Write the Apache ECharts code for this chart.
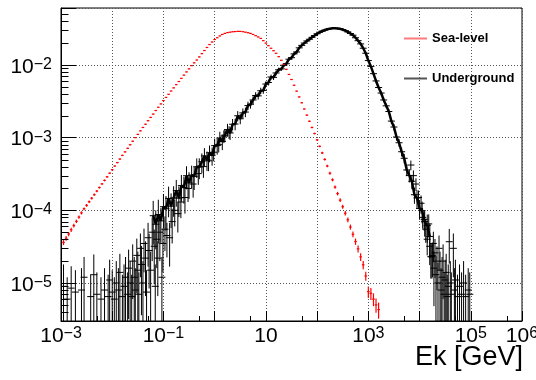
<!DOCTYPE html>
<html>
<head>
<meta charset="utf-8">
<script src="https://cdn.jsdelivr.net/npm/echarts/dist/echarts.min.js"></script>
<style>
html, body { margin: 0; padding: 0; background: #fff; }
#chart { width: 536px; height: 380px; }
</style>
</head>
<body>
<div id="chart"></div>
<script>
// ---------------- data ----------------
// Bin centres shared by both histograms (GeV)
const binCenters = [
  1.12e-3,1.26e-3,1.41e-3,1.58e-3,1.78e-3,2.00e-3,2.24e-3,2.51e-3,2.82e-3,3.16e-3,3.55e-3,3.98e-3,4.47e-3,5.01e-3,5.62e-3,6.31e-3,7.08e-3,7.94e-3,8.91e-3,
  1.00e-2,1.12e-2,1.26e-2,1.41e-2,1.58e-2,1.78e-2,2.00e-2,2.24e-2,2.51e-2,2.82e-2,3.16e-2,3.55e-2,3.98e-2,4.47e-2,5.01e-2,5.62e-2,6.31e-2,7.08e-2,7.94e-2,8.91e-2,
  0.100,0.112,0.126,0.141,0.158,0.178,0.200,0.224,0.251,0.282,0.316,0.355,0.398,0.447,0.501,0.562,0.631,0.708,0.794,0.891,
  1.00,1.12,1.26,1.41,1.58,1.78,2.00,2.24,2.51,2.82,3.16,3.55,3.98,4.47,5.01,5.62,6.31,7.08,7.94,8.91,
  10.0,11.2,12.6,14.1,15.8,17.8,20.0,22.4,25.1,28.2,31.6,35.5,39.8,44.7,50.1,56.2,63.1,70.8,79.4,89.1,
  100,112,126,141,158,178,200,224,251,282,316,355,398,447,501,562,631,708,794,891,
  1000,1122,1259,1413,1585,1778,1995,2239,2512,2818,3162,3548,3981,4467,5012,5623,6310,7079,7943,8913,
  10000,11220,12590,14130,15850
];

// Sea-level spectrum (first 124 bins)
const seaLevel = [
  3.61e-5,4.13e-5,4.72e-5,5.40e-5,6.17e-5,7.06e-5,8.07e-5,9.23e-5,1.05e-4,1.17e-4,1.31e-4,1.47e-4,1.64e-4,1.84e-4,2.06e-4,2.31e-4,2.58e-4,2.89e-4,3.24e-4,
  3.62e-4,4.06e-4,4.54e-4,5.08e-4,5.69e-4,6.37e-4,7.13e-4,7.98e-4,8.93e-4,1.00e-3,1.11e-3,1.24e-3,1.38e-3,1.53e-3,1.71e-3,1.90e-3,2.11e-3,2.36e-3,2.62e-3,2.91e-3,
  3.24e-3,3.58e-3,3.95e-3,4.38e-3,4.84e-3,5.36e-3,5.92e-3,6.55e-3,7.24e-3,8.02e-3,8.85e-3,9.79e-3,1.07e-2,1.17e-2,1.29e-2,1.43e-2,1.58e-2,1.74e-2,1.91e-2,2.07e-2,
  2.24e-2,2.37e-2,2.51e-2,2.63e-2,2.72e-2,2.79e-2,2.83e-2,2.86e-2,2.88e-2,2.90e-2,2.90e-2,2.87e-2,2.83e-2,2.78e-2,2.72e-2,2.63e-2,2.53e-2,2.43e-2,2.32e-2,2.16e-2,
  2.00e-2,1.84e-2,1.70e-2,1.57e-2,1.45e-2,1.30e-2,1.16e-2,1.02e-2,8.71e-3,7.41e-3,6.31e-3,5.25e-3,4.37e-3,3.63e-3,3.02e-3,2.48e-3,2.04e-3,1.68e-3,1.38e-3,1.14e-3,
  9.33e-4,7.59e-4,6.17e-4,5.01e-4,4.07e-4,3.24e-4,2.63e-4,2.09e-4,1.70e-4,1.38e-4,1.12e-4,9.12e-5,7.41e-5,5.89e-5,4.68e-5,3.72e-5,2.95e-5,2.29e-5,1.78e-5,1.25e-5,
  7.6e-6,7.2e-6,6.0e-6,5.0e-6,4.3e-6
];
const seaLevelRelErr = [
  0.08,0.075,0.07,0.065,0.06,0.055,0.05,0.05,0.045,0.045,0.04,0.04,0.035,0.035,0.03,0.03,0.03,0.025,0.025,
  0.025,0.022,0.02,0.02,0.02,0.018,0.018,0.016,0.016,0.015,0.015,0.014,0.014,0.013,0.013,0.012,0.012,0.012,0.011,0.011,
  0.01,0.01,0.01,0.01,0.01,0.01,0.01,0.01,0.01,0.01,0.01,0.01,0.01,0.01,0.01,0.01,0.01,0.01,0.01,0.01,
  0.008,0.008,0.008,0.008,0.008,0.008,0.008,0.008,0.008,0.008,0.008,0.008,0.008,0.008,0.008,0.008,0.008,0.008,0.008,0.008,
  0.008,0.008,0.008,0.009,0.009,0.01,0.01,0.01,0.011,0.012,0.013,0.014,0.015,0.016,0.017,0.018,0.02,0.022,0.024,0.026,
  0.028,0.03,0.033,0.036,0.04,0.044,0.048,0.052,0.056,0.06,0.065,0.07,0.075,0.08,0.09,0.1,0.11,0.12,0.13,0.14,
  0.18,0.19,0.2,0.22,0.25
];

// Underground spectrum, main band (null = no bin drawn)
const underground = [
  null,null,null,null,null,null,null,null,null,null,null,null,null,null,null,null,null,null,null,
  null,null,null,null,null,null,null,null,null,null,null,null,null,null,null,null,
  8.43e-5,6.44e-5,8.75e-5,7.16e-5,
  1.12e-4,1.05e-4,1.46e-4,1.14e-4,1.48e-4,1.87e-4,1.47e-4,2.19e-4,2.06e-4,2.99e-4,2.39e-4,3.05e-4,2.93e-4,3.98e-4,3.94e-4,4.66e-4,5.60e-4,4.95e-4,6.19e-4,5.71e-4,
  7.76e-4,7.78e-4,9.86e-4,8.85e-4,1.08e-3,1.29e-3,1.16e-3,1.53e-3,1.54e-3,2.00e-3,1.82e-3,2.19e-3,2.25e-3,2.76e-3,2.88e-3,3.30e-3,3.80e-3,3.76e-3,4.42e-3,4.46e-3,
  5.46e-3,5.74e-3,6.82e-3,6.75e-3,7.76e-3,8.59e-3,8.83e-3,9.91e-3,1.04e-2,1.20e-2,1.26e-2,1.42e-2,1.51e-2,1.72e-2,1.86e-2,2.00e-2,2.14e-2,2.26e-2,2.40e-2,2.54e-2,
  2.69e-2,2.82e-2,2.92e-2,3.02e-2,3.10e-2,3.16e-2,3.19e-2,3.20e-2,3.18e-2,3.14e-2,3.07e-2,2.97e-2,2.85e-2,2.71e-2,2.57e-2,2.37e-2,2.16e-2,1.95e-2,1.70e-2,1.45e-2,
  1.15e-2,9.55e-3,7.59e-3,6.03e-3,4.90e-3,4.11e-3,3.30e-3,2.74e-3,2.29e-3,1.69e-3,1.40e-3,1.02e-3,8.51e-4,6.40e-4,5.20e-4,3.59e-4,3.02e-4,2.51e-4,1.64e-4,1.48e-4,
  1.06e-4,9.89e-5,7.00e-5,6.17e-5,4.37e-5
];
const undergroundRelErr = [
  null,null,null,null,null,null,null,null,null,null,null,null,null,null,null,null,null,null,null,
  null,null,null,null,null,null,null,null,null,null,null,null,null,null,null,null,
  0.6,0.55,0.6,0.5,
  0.5,0.5,0.45,0.5,0.45,0.4,0.45,0.4,0.4,0.35,0.4,0.35,0.35,0.3,0.32,0.3,0.28,0.3,0.26,0.28,
  0.25,0.25,0.22,0.24,0.2,0.2,0.2,0.18,0.18,0.16,0.16,0.15,0.15,0.13,0.13,0.12,0.11,0.11,0.1,0.1,
  0.09,0.09,0.08,0.08,0.07,0.07,0.06,0.06,0.05,0.05,0.045,0.04,0.04,0.035,0.03,0.03,0.028,0.025,0.025,0.022,
  0.02,0.02,0.02,0.02,0.02,0.02,0.02,0.02,0.02,0.02,0.02,0.02,0.02,0.02,0.02,0.022,0.022,0.025,0.025,0.03,
  0.03,0.035,0.04,0.045,0.05,0.06,0.065,0.07,0.08,0.09,0.1,0.11,0.12,0.14,0.15,0.18,0.2,0.22,0.25,0.28,
  0.3,0.33,0.38,0.42,0.5
];

// Underground: scattered low-statistics bins (low- and high-energy tails)
const undergroundScatterE = [
  1.12e-3,1.32e-3,1.58e-3,1.91e-3,2.51e-3,2.82e-3,3.80e-3,4.37e-3,5.01e-3,6.03e-3,7.08e-3,8.32e-3,8.91e-3,
  1.00e-2,1.10e-2,1.20e-2,1.32e-2,1.41e-2,1.58e-2,1.70e-2,1.82e-2,2.00e-2,2.09e-2,
  2.24e-2,2.40e-2,2.51e-2,2.69e-2,2.82e-2,3.02e-2,3.16e-2,3.31e-2,3.55e-2,3.72e-2,
  3.98e-2,4.17e-2,4.47e-2,4.68e-2,5.01e-2,5.25e-2,5.62e-2,6.03e-2,6.61e-2,6.92e-2,
  7.41e-2,7.76e-2,8.51e-2,9.33e-2,9.77e-2,
  0.107,0.117,0.132,0.148,0.166,0.191,0.219,0.263,0.302,0.380,0.479,0.603,0.759,0.955,1.20,1.51,1.91,
  6.76e3,7.59e3,8.51e3,9.55e3,1.07e4,1.15e4,1.23e4,
  1.32e4,1.41e4,1.51e4,1.58e4,1.66e4,1.74e4,1.78e4,1.86e4,1.91e4,2.00e4,
  2.09e4,2.19e4,2.29e4,2.40e4,2.51e4,2.63e4,2.75e4,2.88e4,3.02e4,3.16e4,
  3.31e4,3.47e4,3.63e4,3.80e4,3.98e4,4.17e4,4.57e4,4.79e4,5.01e4,5.50e4,
  6.03e4,6.61e4,7.24e4,7.94e4,8.91e4,9.55e4
];
const undergroundScatterY = [
  9.0e-6,6.0e-6,8.5e-6,7.5e-6,8.0e-6,1.2e-5,6.5e-6,1.3e-5,7.0e-6,6.0e-6,8.0e-6,6.5e-6,1.1e-5,
  7.5e-6,6.0e-6,1.0e-5,8.0e-6,1.4e-5,6.5e-6,9.0e-6,1.2e-5,7.0e-6,1.6e-5,
  1.0e-5,6.5e-6,2.0e-5,1.2e-5,8.0e-6,2.4e-5,1.5e-5,7.0e-6,3.0e-5,1.8e-5,
  1.0e-5,3.5e-5,2.2e-5,7.5e-6,4.2e-5,2.8e-5,1.5e-5,5.0e-5,3.2e-5,9.0e-6,
  4.0e-5,2.2e-5,5.0e-5,1.2e-5,3.5e-5,
  5.5e-5,4.5e-5,4.2e-5,7.0e-5,1.0e-4,9.0e-5,1.3e-4,1.5e-4,2.0e-4,2.3e-4,3.2e-4,4.0e-4,4.8e-4,6.3e-4,8.0e-4,1.05e-3,1.2e-3,
  4.2e-4,3.0e-4,2.3e-4,1.5e-4,1.25e-4,8.0e-5,7.5e-5,
  5.5e-5,4.0e-5,6.5e-5,3.2e-5,2.3e-5,2.3e-5,2.4e-5,3.5e-5,1.6e-5,2.6e-5,
  1.3e-5,2.0e-5,1.0e-5,3.0e-5,1.5e-5,8.0e-6,1.2e-5,2.0e-5,7.0e-6,1.1e-5,
  1.4e-5,6.5e-6,9.0e-6,3.7e-5,1.0e-5,7.0e-6,3.0e-5,8.0e-6,1.1e-5,6.5e-6,
  9.0e-6,7.0e-6,1.0e-5,6.5e-6,8.0e-6,7.0e-6
];
const undergroundScatterRelErr = [
  1.0,1.0,1.0,1.0,1.0,0.9,1.0,0.9,1.0,1.0,1.0,1.0,0.9,
  1.0,1.0,1.0,1.0,0.8,1.0,1.0,0.9,1.0,0.8,
  1.0,1.0,0.7,0.9,1.0,0.7,0.8,1.0,0.6,0.8,
  1.0,0.6,0.7,1.0,0.6,0.7,0.8,0.6,0.7,1.0,
  0.6,0.7,0.6,0.9,0.6,
  0.5,0.5,0.6,0.5,0.4,0.45,0.4,0.4,0.35,0.35,0.3,0.3,0.28,0.25,0.22,0.2,0.2,
  0.15,0.18,0.2,0.25,0.28,0.3,0.3,
  0.35,0.4,0.35,0.45,0.5,0.5,0.5,0.45,0.7,0.55,
  0.8,0.6,0.9,0.5,0.8,1.0,0.9,0.7,1.0,0.9,
  0.8,1.0,1.0,0.5,1.0,1.0,0.6,1.0,0.9,1.0,
  1.0,1.0,1.0,1.0,1.0,1.0
];

// Axis ranges and tick marks
const X_MIN = 1e-3, X_MAX = 1e6;
const Y_MIN = 3.0e-6, Y_MAX = 0.0608;
const xLabelExponents = [-3, -1, 1, 3, 5, 6];
const yLabelExponents = [-5, -4, -3, -2];
const xMinorTicks = [5e-3, 5e-2, 5e-1, 5, 50, 500, 5e3, 5e4, 5e5];
const yMinorTicks = [
  4e-6,5e-6,6e-6,7e-6,8e-6,9e-6,
  2e-5,3e-5,4e-5,5e-5,6e-5,7e-5,8e-5,9e-5,
  2e-4,3e-4,4e-4,5e-4,6e-4,7e-4,8e-4,9e-4,
  2e-3,3e-3,4e-3,5e-3,6e-3,7e-3,8e-3,9e-3,
  2e-2,3e-2,4e-2,5e-2,6e-2
];
const seriesNames = ['Sea-level', 'Underground'];
const xTitle = 'Ek [GeV]';

// ---------------- chart ----------------
const FONT = 'Liberation Sans';
const chart = echarts.init(document.getElementById('chart'), null, { renderer: 'canvas' });

function powerLabel(allowed) {
  return function (value) {
    const l = Math.log10(value);
    const e = Math.round(l);
    if (Math.abs(l - e) > 1e-6) return '';
    if (allowed.indexOf(e) < 0) return '';
    if (e === 0) return '{b|1}';
    if (e === 1) return '{b|10}';
    return '{b|10}{s|' + (e < 0 ? '\u2212' + (-e) : String(e)) + '}';
  };
}
const richLabel = {
  b: { fontFamily: FONT, fontSize: 21, lineHeight: 21, padding: [4, 0, 0, 0], verticalAlign: 'bottom', color: '#000' },
  s: { fontFamily: FONT, fontSize: 16, lineHeight: 16, verticalAlign: 'top', color: '#000' }
};

function errorBars(halfWidth, lineWidth) {
  return function (params, api) {
    const e = api.value(0), y = api.value(1), rel = api.value(2);
    const hi = Math.min(y * (1 + rel), Y_MAX);
    const lo = Math.max(y * (1 - rel), Y_MIN);
    const c = api.coord([e, y]);
    const t = api.coord([e, hi]);
    const b = api.coord([e, lo]);
    const style = { stroke: api.visual('color'), lineWidth: lineWidth, fill: null };
    return {
      type: 'group',
      children: [
        { type: 'line', shape: { x1: c[0] - halfWidth, y1: c[1], x2: c[0] + halfWidth, y2: c[1] }, style: style },
        { type: 'line', shape: { x1: c[0], y1: t[1], x2: c[0], y2: b[1] }, style: style }
      ]
    };
  };
}

const redData = seaLevel.map((v, i) => [binCenters[i], v, seaLevelRelErr[i]]);
const blackData = [];
underground.forEach((v, i) => { if (v != null) blackData.push([binCenters[i], v, undergroundRelErr[i]]); });
const blackScatter = undergroundScatterE.map((e, i) => [e, undergroundScatterY[i], undergroundScatterRelErr[i]]);

const option = {
  animation: false,
  backgroundColor: '#fff',
  textStyle: { fontFamily: FONT },
  grid: { left: 61, right: 14, top: 8, bottom: 59, show: true, borderColor: '#000', borderWidth: 1, containLabel: false, outerBoundsMode: 'none' },
  legend: {
    orient: 'vertical', left: 399, top: 27,
    itemWidth: 23, itemHeight: 2, itemGap: 27, selectedMode: false,
    textStyle: { fontFamily: FONT, fontSize: 13, fontWeight: 'bold', color: '#000' },
    data: [
      { name: seriesNames[0], icon: 'rect', itemStyle: { color: '#ff7a7a', borderWidth: 0 } },
      { name: seriesNames[1], icon: 'rect', itemStyle: { color: '#555', borderWidth: 0 } }
    ]
  },
  xAxis: {
    type: 'log', logBase: 10, min: X_MIN, max: X_MAX,
    axisLine: { show: true, lineStyle: { color: '#000', width: 1 } },
    axisTick: { show: true, inside: true, length: 10, lineStyle: { color: '#000' } },
    splitLine: { show: true, lineStyle: { color: '#555', type: [1, 2], width: 1 } },
    axisLabel: { formatter: powerLabel(xLabelExponents), rich: richLabel, margin: 5, showMinLabel: true, showMaxLabel: true, hideOverlap: false }
  },
  yAxis: {
    type: 'log', logBase: 10, min: Y_MIN, max: Y_MAX,
    axisLine: { show: true, lineStyle: { color: '#000', width: 1 } },
    axisTick: { show: true, inside: true, length: 15, lineStyle: { color: '#000' } },
    splitLine: { show: true, lineStyle: { color: '#555', type: [1, 2], width: 1 } },
    axisLabel: { formatter: powerLabel(yLabelExponents), rich: richLabel, margin: 9, padding: [4, 0, 0, 0], showMinLabel: true, showMaxLabel: true }
  },
  graphic: [
    { type: 'text', right: 13, top: 344, style: { text: xTitle, font: '27px "' + FONT + '"', fill: '#000' } }
  ],
  series: [
    {
      type: 'custom', name: seriesNames[0], clip: true, z: 3,
      itemStyle: { color: '#ff0000' },
      data: redData, encode: { x: 0, y: 1 },
      renderItem: errorBars(1.3, 1.2)
    },
    {
      type: 'custom', name: seriesNames[1], clip: true, z: 2,
      itemStyle: { color: '#000' },
      data: blackData, encode: { x: 0, y: 1 },
      renderItem: errorBars(3.5, 1)
    },
    {
      type: 'custom', name: seriesNames[1], clip: true, z: 2,
      itemStyle: { color: '#000' },
      data: blackScatter, encode: { x: 0, y: 1 },
      renderItem: errorBars(3.5, 1)
    },
    {
      type: 'line', name: 'Underground band', z: 2, silent: true,
      data: blackData.map(d => [d[0], d[1]]),
      showSymbol: false, symbol: 'none',
      lineStyle: { color: '#000', width: 2.5 },
      itemStyle: { color: '#000' }
    },
    {
      type: 'custom', name: 'minorTicksX', silent: true, clip: false, z: 5,
      data: xMinorTicks.map(v => [v, Y_MIN]), encode: { x: 0, y: 1 },
      renderItem: function (params, api) {
        const p = api.coord([api.value(0), api.value(1)]);
        const x = Math.round(p[0]) + 0.5;
        return { type: 'line', shape: { x1: x, y1: p[1], x2: x, y2: p[1] - 5 }, style: { stroke: '#000', lineWidth: 1 } };
      }
    },
    {
      type: 'custom', name: 'minorTicksY', silent: true, clip: false, z: 5,
      data: yMinorTicks.map(v => [X_MIN, v]), encode: { x: 0, y: 1 },
      renderItem: function (params, api) {
        const p = api.coord([api.value(0), api.value(1)]);
        const y = Math.round(p[1]) + 0.5;
        return { type: 'line', shape: { x1: p[0], y1: y, x2: p[0] + 7.5, y2: y }, style: { stroke: '#000', lineWidth: 1 } };
      }
    }
  ]
};
chart.setOption(option);
</script>
</body>
</html>
